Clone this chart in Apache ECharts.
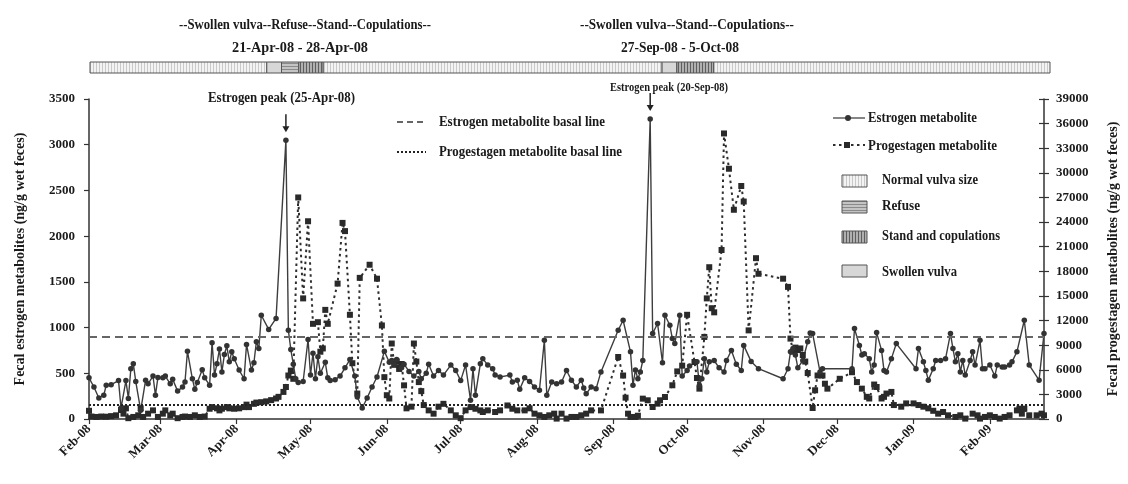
<!DOCTYPE html>
<html><head><meta charset="utf-8">
<script src="https://cdn.jsdelivr.net/npm/echarts@6/dist/echarts.min.js"></script>
<style>html,body{margin:0;padding:0;background:#fff}#c{width:1128px;height:484px}</style>
</head><body><div id="c"></div>
<script>
// ---------------- DATA ----------------
const estrogenDates = [
 '2008-02-05','2008-02-07','2008-02-09','2008-02-11','2008-02-12','2008-02-14','2008-02-17','2008-02-18','2008-02-20','2008-02-21','2008-02-22','2008-02-23','2008-02-24','2008-02-26','2008-02-28','2008-02-29',
 '2008-03-02','2008-03-03','2008-03-04','2008-03-06','2008-03-07','2008-03-09','2008-03-10','2008-03-12','2008-03-14','2008-03-15','2008-03-16','2008-03-18','2008-03-19','2008-03-20','2008-03-22','2008-03-23','2008-03-25','2008-03-26','2008-03-27','2008-03-28','2008-03-29','2008-03-30','2008-03-31',
 '2008-04-01','2008-04-02','2008-04-03','2008-04-04','2008-04-06','2008-04-08','2008-04-09','2008-04-11','2008-04-12','2008-04-13','2008-04-14','2008-04-15','2008-04-18','2008-04-21','2008-04-25','2008-04-26','2008-04-27','2008-04-28','2008-04-29','2008-04-30',
 '2008-05-02','2008-05-04','2008-05-05','2008-05-06','2008-05-07','2008-05-08','2008-05-09','2008-05-11','2008-05-12','2008-05-13','2008-05-15','2008-05-17','2008-05-19','2008-05-21','2008-05-23','2008-05-24','2008-05-26','2008-05-28','2008-05-30',
 '2008-06-01','2008-06-04','2008-06-06','2008-06-07','2008-06-08','2008-06-09','2008-06-11','2008-06-12','2008-06-14','2008-06-16','2008-06-18','2008-06-19','2008-06-21','2008-06-22','2008-06-24','2008-06-26','2008-06-28',
 '2008-07-01','2008-07-03','2008-07-05','2008-07-07','2008-07-09','2008-07-10','2008-07-11','2008-07-13','2008-07-14','2008-07-16','2008-07-18','2008-07-19','2008-07-21','2008-07-25','2008-07-26','2008-07-28','2008-07-29','2008-07-31',
 '2008-08-02','2008-08-04','2008-08-06','2008-08-08','2008-08-09','2008-08-11','2008-08-13','2008-08-15','2008-08-17','2008-08-19','2008-08-21','2008-08-23','2008-08-24','2008-08-25','2008-08-27','2008-08-29','2008-08-31',
 '2008-09-07','2008-09-09','2008-09-12','2008-09-13','2008-09-14','2008-09-15','2008-09-16','2008-09-17','2008-09-20','2008-09-21','2008-09-23','2008-09-25','2008-09-26','2008-09-28','2008-09-29','2008-09-30',
 '2008-10-02','2008-10-03','2008-10-05','2008-10-06','2008-10-09','2008-10-10','2008-10-11','2008-10-12','2008-10-13','2008-10-14','2008-10-16','2008-10-18','2008-10-20','2008-10-21','2008-10-23','2008-10-25','2008-10-27','2008-10-28','2008-10-31',
 '2008-11-03','2008-11-13','2008-11-15','2008-11-16','2008-11-17','2008-11-18','2008-11-19','2008-11-21','2008-11-23','2008-11-24','2008-11-25','2008-11-28','2008-11-29',
 '2008-12-11','2008-12-12','2008-12-14','2008-12-15','2008-12-16','2008-12-18','2008-12-19','2008-12-20','2008-12-21','2008-12-23','2008-12-24','2008-12-25','2008-12-27','2008-12-29',
 '2009-01-06','2009-01-07','2009-01-09','2009-01-10','2009-01-11','2009-01-13','2009-01-14','2009-01-16','2009-01-18','2009-01-20','2009-01-21','2009-01-22','2009-01-23','2009-01-24','2009-01-25','2009-01-26','2009-01-28','2009-01-29','2009-01-30',
 '2009-02-01','2009-02-02','2009-02-03','2009-02-05','2009-02-07','2009-02-08','2009-02-10','2009-02-11','2009-02-13','2009-02-14','2009-02-16','2009-02-19','2009-02-21','2009-02-25','2009-02-27'
];
const estrogenValues = [
 450,350,230,260,370,375,420,120,420,225,550,605,410,95,425,385,
 470,260,455,450,470,385,435,305,350,405,740,440,325,400,540,450,370,835,480,605,765,515,705,
 800,625,735,660,535,440,815,535,615,845,770,1135,980,1100,3050,970,760,600,440,400,
 410,870,480,720,440,680,500,620,450,420,430,470,560,650,470,240,120,230,350,
 460,740,620,640,600,650,560,600,520,470,520,440,500,600,470,530,480,
 590,530,420,590,205,550,260,605,660,590,550,480,460,480,405,425,325,450,
 410,350,315,860,260,405,385,405,530,425,350,425,340,275,350,330,515,
 970,1080,735,370,535,440,515,640,3280,935,1045,615,1135,1025,880,825,
 1135,470,530,580,625,370,440,660,515,625,640,560,515,640,750,600,530,805,630,
 550,440,550,735,770,700,560,640,845,940,935,515,550,
 550,990,805,700,715,660,515,590,945,750,530,515,660,825,
 550,770,625,530,425,550,640,640,660,935,770,625,715,515,640,480,640,735,590,
 860,550,550,590,470,590,570,570,590,625,735,1080,590,425,935
];
const progestagenDates = [
 '2008-02-05','2008-02-06','2008-02-08','2008-02-10','2008-02-12','2008-02-14','2008-02-16','2008-02-18','2008-02-19','2008-02-20','2008-02-21','2008-02-23','2008-02-25','2008-02-26','2008-02-27','2008-02-29',
 '2008-03-02','2008-03-04','2008-03-06','2008-03-07','2008-03-09','2008-03-10','2008-03-12','2008-03-14','2008-03-15','2008-03-17','2008-03-19','2008-03-21','2008-03-23','2008-03-25','2008-03-26','2008-03-28','2008-03-29','2008-03-30',
 '2008-04-01','2008-04-02','2008-04-04','2008-04-06','2008-04-08','2008-04-09','2008-04-10','2008-04-12','2008-04-13','2008-04-15','2008-04-17','2008-04-19','2008-04-21','2008-04-22','2008-04-24','2008-04-25','2008-04-26','2008-04-27','2008-04-28','2008-04-30',
 '2008-05-02','2008-05-04','2008-05-06','2008-05-08','2008-05-09','2008-05-10','2008-05-11','2008-05-12','2008-05-16','2008-05-18','2008-05-19','2008-05-21','2008-05-22','2008-05-24','2008-05-25','2008-05-29',
 '2008-06-01','2008-06-03','2008-06-04','2008-06-05','2008-06-06','2008-06-07','2008-06-08','2008-06-09','2008-06-10','2008-06-11','2008-06-12','2008-06-13','2008-06-15','2008-06-16','2008-06-17','2008-06-18','2008-06-19','2008-06-20','2008-06-22','2008-06-24','2008-06-26','2008-06-28',
 '2008-07-01','2008-07-03','2008-07-05','2008-07-07','2008-07-09','2008-07-11','2008-07-13','2008-07-14','2008-07-16','2008-07-19','2008-07-21','2008-07-24','2008-07-26','2008-07-28','2008-07-31',
 '2008-08-02','2008-08-04','2008-08-06','2008-08-08','2008-08-10','2008-08-12','2008-08-13','2008-08-15','2008-08-17','2008-08-19','2008-08-21','2008-08-23','2008-08-25','2008-08-27','2008-08-31',
 '2008-09-07','2008-09-09','2008-09-10','2008-09-11','2008-09-12','2008-09-14','2008-09-15','2008-09-17','2008-09-19','2008-09-21','2008-09-23','2008-09-24','2008-09-26','2008-09-29',
 '2008-10-01','2008-10-03','2008-10-05','2008-10-08','2008-10-09','2008-10-10','2008-10-12','2008-10-13','2008-10-14','2008-10-15','2008-10-16','2008-10-19','2008-10-20','2008-10-22','2008-10-24','2008-10-27','2008-10-28','2008-10-30',
 '2008-11-02','2008-11-03','2008-11-13','2008-11-15','2008-11-16','2008-11-17','2008-11-18','2008-11-19','2008-11-20','2008-11-21','2008-11-22','2008-11-23','2008-11-25','2008-11-26','2008-11-27','2008-11-29','2008-11-30',
 '2008-12-01','2008-12-06','2008-12-11','2008-12-13','2008-12-15','2008-12-17','2008-12-18','2008-12-20','2008-12-21','2008-12-23','2008-12-24','2008-12-25','2008-12-27','2008-12-28','2008-12-31',
 '2009-01-02','2009-01-05','2009-01-07','2009-01-09','2009-01-11','2009-01-13','2009-01-15','2009-01-17','2009-01-19','2009-01-22','2009-01-24','2009-01-26','2009-01-29','2009-01-31',
 '2009-02-01','2009-02-03','2009-02-05','2009-02-07','2009-02-09','2009-02-11','2009-02-13','2009-02-16','2009-02-17','2009-02-18','2009-02-19','2009-02-21','2009-02-24','2009-02-26','2009-02-27'
];
const progestagenValues = [
 1000,300,250,300,280,350,450,1100,650,1300,100,250,450,1300,250,650,
 1050,250,650,1050,450,650,100,250,300,250,450,250,300,1250,1450,1300,1050,1250,
 1450,1300,1250,1300,1450,1750,1450,1850,2000,2050,2150,2300,2500,2700,3300,3900,5300,5900,4900,27000,
 14700,24100,11600,11800,8200,8600,13300,11600,16500,23900,22900,12700,6800,3100,17200,18800,
 17100,11400,5100,2900,2500,9200,6600,7000,6100,6700,4100,1300,1500,9200,7000,4500,3400,1700,1050,650,1500,1850,
 1050,450,100,1050,1450,1250,1050,850,1050,850,1050,1650,1250,1050,1050,
 1300,650,450,250,450,650,50,650,50,250,250,450,650,1050,1050,
 7560,5300,2600,650,250,250,400,2480,2280,1460,1870,2280,2680,4110,
 5800,6500,12700,6950,5000,3700,10000,14700,18500,13500,13000,20600,34800,30500,25500,28400,26500,10800,
 19600,17700,17100,16100,9800,8200,8700,8400,8600,7800,7000,5600,1340,3500,5300,5300,4300,
 3700,4900,5700,4500,3700,2700,2500,4200,3900,2500,2700,3100,3300,1700,1500,
 1900,1900,1700,1500,1300,1000,650,850,450,250,450,50,650,450,
 50,250,450,250,50,250,450,1050,1260,650,1260,450,450,650,450
];
const estrogenBasal = 900;
const progestagenBasal = 1700;
const estrogenPeakDates = ['2008-04-25', '2008-09-20'];
const monthTickDates = ['2008-02-05','2008-03-05','2008-04-05','2008-05-05','2008-06-05','2008-07-05','2008-08-05','2008-09-05','2008-10-05','2008-11-05','2008-12-05','2009-01-05','2009-02-05'];
const xRange = ['2008-02-05', '2009-02-27'];
const estrogenAxis = {min: 0, max: 3500, interval: 500};
const progestagenAxis = {min: 0, max: 39000, interval: 3000};
const vulvaStateNames = ['Normal vulva size', 'Refuse', 'Stand and copulations', 'Swollen vulva'];
const stateStarts = ['2008-02-05','2008-04-17','2008-04-23','2008-04-30','2008-05-10','2008-09-25','2008-10-01','2008-10-16'];
const stateEnds   = ['2008-04-17','2008-04-23','2008-04-30','2008-05-10','2008-09-25','2008-10-01','2008-10-16','2009-03-02'];
const stateKinds  = [0, 3, 1, 2, 0, 3, 2, 0];
const stateRange = ['2008-02-05', '2009-03-02'];

// ---------------- HELPERS ----------------
const FONT = '"Liberation Serif","Times New Roman",serif';
const MON = ['Jan','Feb','Mar','Apr','May','Jun','Jul','Aug','Sep','Oct','Nov','Dec'];
const ts = s => { const p = s.split('-').map(Number); return Date.UTC(p[0], p[1] - 1, p[2]); };
const fmtMonth = v => { const d = new Date(v); return MON[d.getUTCMonth()] + '-' + String(d.getUTCFullYear()).slice(2); };
const fmtPlain = v => String(Math.round(v));

function pattern(w, h, bg, draw) {
  const c = document.createElement('canvas'); c.width = w; c.height = h;
  const g = c.getContext('2d'); g.fillStyle = bg; g.fillRect(0, 0, w, h); if (draw) draw(g);
  return { type: 'pattern', image: c, repeat: 'repeat' };
}
const fills = [
  pattern(3, 3, '#f3f3f3', g => { g.fillStyle = '#c9c9c9'; g.fillRect(0, 0, 1, 3); }),   // normal
  pattern(3, 3, '#c4c4c4', g => { g.fillStyle = '#8a8a8a'; g.fillRect(0, 0, 3, 1); }),   // refuse
  pattern(3, 3, '#b0b0b0', g => { g.fillStyle = '#5e5e5e'; g.fillRect(0, 0, 1, 3); }),   // stand
  pattern(2, 2, '#d7d7d7')                                                                  // swollen
];

const mctx = document.createElement('canvas').getContext('2d');
function fitText(text, x, y, width, size, align) {
  mctx.font = 'bold ' + size + 'px ' + FONT;
  const w = mctx.measureText(text).width || width;
  return { type: 'text', x: x, y: y, scaleX: width / w, silent: true, z: 100,
    style: { text: text, fontFamily: FONT, fontWeight: 'bold', fontSize: size, fill: '#1a1a1a',
             align: align || 'center', verticalAlign: 'middle' } };
}

const estrogenData = estrogenDates.map((d, i) => [ts(d), estrogenValues[i]]);
const progestagenData = progestagenDates.map((d, i) => [ts(d), progestagenValues[i]]);
const stateData = stateStarts.map((s, i) => [ts(s), ts(stateEnds[i]), stateKinds[i]]);
const tickValues = monthTickDates.map(ts);

const axisFont = { fontFamily: FONT, fontWeight: 'bold', fontSize: 13, color: '#1a1a1a' };
const axisLine = { show: true, lineStyle: { color: '#333', width: 1.5 } };

const chart = echarts.init(document.getElementById('c'), null, { renderer: 'canvas' });
const option = {
  animation: false,
  backgroundColor: '#fff',
  textStyle: { fontFamily: FONT },
  grid: [
    { left: 89, right: 84, top: 99, bottom: 65 },
    { left: 90, right: 78, top: 62, height: 11 }
  ],
  xAxis: [
    { type: 'value', gridIndex: 0, min: ts(xRange[0]), max: ts(xRange[1]),
      axisLine: axisLine,
      axisTick: { show: true, customValues: tickValues, length: 5, lineStyle: { color: '#333', width: 1.2 } },
      axisLabel: Object.assign({ customValues: tickValues, rotate: 45, margin: 8, formatter: fmtMonth }, axisFont),
      splitLine: { show: false } },
    { type: 'value', gridIndex: 1, min: ts(stateRange[0]), max: ts(stateRange[1]), show: false }
  ],
  yAxis: [
    { type: 'value', gridIndex: 0, position: 'left', min: estrogenAxis.min, max: estrogenAxis.max, interval: estrogenAxis.interval,
      axisLine: axisLine, axisTick: { show: true, length: 5, lineStyle: { color: '#333', width: 1.2 } },
      axisLabel: Object.assign({ margin: 14, formatter: fmtPlain }, axisFont), splitLine: { show: false },
      name: 'Fecal estrogen metabolites (ng/g wet feces)', nameLocation: 'middle', nameGap: 62, nameRotate: 90,
      nameTextStyle: { fontFamily: FONT, fontWeight: 'bold', fontSize: 14, color: '#1a1a1a' } },
    { type: 'value', gridIndex: 0, position: 'right', min: progestagenAxis.min, max: progestagenAxis.max, interval: progestagenAxis.interval,
      axisLine: axisLine, axisTick: { show: true, length: 5, lineStyle: { color: '#333', width: 1.2 } },
      axisLabel: Object.assign({ margin: 12, formatter: fmtPlain }, axisFont), splitLine: { show: false },
      name: 'Fecal progestagen metabolites (ng/g wet feces)', nameLocation: 'middle', nameGap: 62, nameRotate: 90,
      nameTextStyle: { fontFamily: FONT, fontWeight: 'bold', fontSize: 14, color: '#1a1a1a' } },
    { type: 'value', gridIndex: 0, position: 'right', min: progestagenAxis.min, max: progestagenAxis.max, interval: progestagenAxis.interval,
      axisLine: { show: false }, axisTick: { show: true, inside: true, length: 5, lineStyle: { color: '#333', width: 1.2 } },
      axisLabel: { show: false }, splitLine: { show: false } },
    { type: 'value', gridIndex: 1, min: 0, max: 1, show: false }
  ],
  series: [
    { name: 'Vulva state', type: 'custom', xAxisIndex: 1, yAxisIndex: 3, silent: true,
      encode: { x: [0, 1] }, data: stateData,
      renderItem: function (params, api) {
        const a = api.coord([api.value(0), 1]);
        const b = api.coord([api.value(1), 0]);
        return { type: 'rect', shape: { x: a[0], y: a[1], width: b[0] - a[0], height: b[1] - a[1] },
                 style: { fill: fills[api.value(2)], stroke: '#555', lineWidth: 1 } };
      } },
    { name: 'Progestagen metabolite', type: 'line', xAxisIndex: 0, yAxisIndex: 1, data: progestagenData,
      symbol: 'rect', symbolSize: 6, showAllSymbol: true,
      lineStyle: { color: '#2e2e2e', width: 2, type: [2.5, 3.5] }, itemStyle: { color: '#2a2a2a' },
      markLine: { silent: true, symbol: 'none', label: { show: false },
        lineStyle: { color: '#222', width: 2, type: [2, 2] }, data: [{ yAxis: progestagenBasal }] } },
    { name: 'Estrogen metabolite', type: 'line', xAxisIndex: 0, yAxisIndex: 0, data: estrogenData,
      symbol: 'circle', symbolSize: 5.5, showAllSymbol: true,
      lineStyle: { color: '#3d3d3d', width: 1.4 }, itemStyle: { color: '#333' },
      markLine: { silent: true, symbol: 'none', label: { show: false },
        lineStyle: { color: '#666', width: 1.8, type: [8, 5] }, data: [{ yAxis: estrogenBasal }] } }
  ]
};
chart.setOption(option);

// ---------------- ANNOTATIONS / LEGENDS ----------------
const g = [];
g.push(fitText('--Swollen vulva--Refuse--Stand--Copulations--', 305, 25, 252, 15));
g.push(fitText('21-Apr-08 - 28-Apr-08', 300, 48, 136, 15));
g.push(fitText('--Swollen vulva--Stand--Copulations--', 687, 25, 214, 15));
g.push(fitText('27-Sep-08 - 5-Oct-08', 680, 48, 118, 15));
g.push(fitText('Estrogen peak (25-Apr-08)', 281.5, 98, 147, 15));
g.push(fitText('Estrogen peak (20-Sep-08)', 669, 88, 118, 12));

estrogenPeakDates.forEach(d => {
  const i = estrogenDates.indexOf(d);
  const p = chart.convertToPixel({ xAxisIndex: 0, yAxisIndex: 0 }, [ts(d), estrogenValues[i]]);
  const tip = p[1] - 8;
  g.push({ type: 'line', silent: true, z: 100, shape: { x1: p[0], y1: tip - 18, x2: p[0], y2: tip - 5 }, style: { stroke: '#222', lineWidth: 1.5 } });
  g.push({ type: 'polygon', silent: true, z: 100, shape: { points: [[p[0] - 3.5, tip - 6], [p[0] + 3.5, tip - 6], [p[0], tip]] }, style: { fill: '#222' } });
});

// basal line legend
g.push({ type: 'line', silent: true, shape: { x1: 397, y1: 122, x2: 426, y2: 122 }, style: { stroke: '#666', lineWidth: 1.8, lineDash: [6, 4] } });
g.push(fitText('Estrogen metabolite basal line', 439, 122, 166, 15, 'left'));
g.push({ type: 'line', silent: true, shape: { x1: 397, y1: 152, x2: 426, y2: 152 }, style: { stroke: '#222', lineWidth: 2, lineDash: [2, 2] } });
g.push(fitText('Progestagen metabolite basal line', 439, 152, 183, 15, 'left'));

// series legend
g.push({ type: 'line', silent: true, shape: { x1: 833, y1: 118, x2: 865, y2: 118 }, style: { stroke: '#444', lineWidth: 1.3 } });
g.push({ type: 'circle', silent: true, shape: { cx: 848, cy: 118, r: 3 }, style: { fill: '#333' } });
g.push(fitText('Estrogen metabolite', 868, 118, 109, 15, 'left'));
g.push({ type: 'line', silent: true, shape: { x1: 833, y1: 145, x2: 865, y2: 145 }, style: { stroke: '#2e2e2e', lineWidth: 2, lineDash: [2.5, 3.5] } });
g.push({ type: 'rect', silent: true, shape: { x: 844, y: 142, width: 6, height: 6 }, style: { fill: '#2a2a2a' } });
g.push(fitText('Progestagen metabolite', 868, 146, 129, 15, 'left'));

// vulva state legend
const boxY = [175, 201, 231, 265];
const boxTextY = [180, 206, 236, 272];
const boxTextW = [96, 38, 118, 75];
const boxOrder = [0, 1, 2, 3];
boxOrder.forEach((k, j) => {
  g.push({ type: 'rect', silent: true, shape: { x: 842, y: boxY[j], width: 25, height: 12 }, style: { fill: fills[k], stroke: '#555', lineWidth: 1 } });
  g.push(fitText(vulvaStateNames[k], 882, boxTextY[j], boxTextW[j], 15, 'left'));
});

chart.setOption({ graphic: g });
</script>
</body></html>
